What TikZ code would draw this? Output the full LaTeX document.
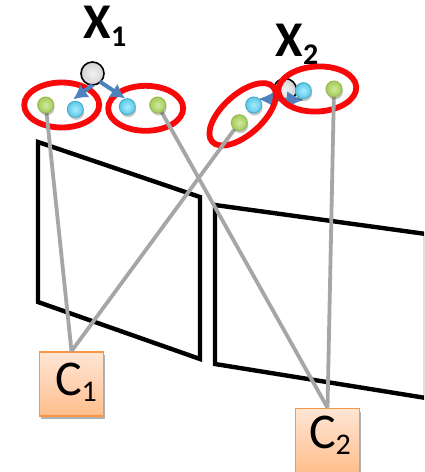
\documentclass[tikz,border=0pt]{standalone}
\usepackage{fontspec}
\setmainfont{Carlito}
\usetikzlibrary{arrows.meta,shapes.geometric,shadows}
\definecolor{ringred}{HTML}{F80808}
\definecolor{raygray}{HTML}{A6A6A6}
\definecolor{flowblue}{HTML}{4F81BD}
\definecolor{camedge}{HTML}{F79646}
\definecolor{camtop}{HTML}{FFE6D5}
\definecolor{cambot}{HTML}{FFBE8C}
\definecolor{greenin}{HTML}{D2E8A0}
\definecolor{greenout}{HTML}{A3CC55}
\definecolor{greenrim}{HTML}{98B954}
\definecolor{bluein}{HTML}{A5ECFC}
\definecolor{blueout}{HTML}{5CC8EA}
\definecolor{bluerim}{HTML}{4BACC6}
\tikzset{
  panel/.style={draw=black,line width=4.4pt,line join=miter},
  ray/.style={draw=raygray,line width=3.8pt},
  ring/.style={draw=ringred,line width=5.8pt,ellipse,minimum width=75pt,minimum height=45pt,inner sep=0pt},
  flow/.style={draw=flowblue,line width=4pt,-{Latex[length=14pt,width=16pt]}},
  dflow/.style={draw=flowblue,line width=4pt,{Latex[length=17pt,width=17pt]}-{Latex[length=17pt,width=17pt]}},
  softshadow/.style={drop shadow={shadow xshift=1pt,shadow yshift=-2.5pt,opacity=0.22,fill=black}},
  greenpt/.style={circle,draw=greenrim,line width=1pt,minimum size=16pt,inner sep=0pt,inner color=greenin,outer color=greenout,softshadow},
  bluept/.style={circle,draw=bluerim,line width=1pt,minimum size=16pt,inner sep=0pt,inner color=bluein,outer color=blueout,softshadow},
  graypt/.style={circle,draw=black,line width=1.6pt,minimum size=23pt,inner sep=0pt,inner color=gray!10,outer color=gray!35},
  cambox/.style={rectangle,draw=camedge,line width=1.6pt,minimum size=64pt,inner sep=0pt,top color=camtop,bottom color=cambot,drop shadow={shadow xshift=1pt,shadow yshift=-3pt,opacity=0.3,fill=black}},
  camlabel/.style={inner sep=0pt,font=\fontsize{50}{50}\selectfont},
  pointlabel/.style={inner sep=0pt,font=\fontsize{50}{50}\selectfont\bfseries}
}
\newcommand{\subdown}[2]{\raisebox{-#1}{\fontsize{30}{30}\selectfont #2}}
\begin{document}
\begin{tikzpicture}[x=1pt,y=-1pt]
        \useasboundingbox (0,0) rectangle (424,472);
        \clip (0,0) rectangle (424,472);
        \fill[white] (0,0) rectangle (424,472);
        \draw[panel] (38,142) -- (200,197) -- (200,359) -- (38,302) -- cycle;
        \draw[panel] (215,205) -- (426,234) -- (426,398) -- (215,364) -- cycle;
        \node[pointlabel] (labelone) at (105,26) {X\subdown{8pt}{1}};
        \node[pointlabel] (labeltwo) at (297,44) {X\subdown{8pt}{2}};
        \node[graypt] (xone) at (92.5,73.5) {};
        \node[graypt] (xtwo) at (285,90) {};
        \coordinate (tipleft) at (258,99);
        \coordinate (tipright) at (304,100);
        \draw[dflow] (tipleft) -- (tipright);
        \node[ring] (ringa) at (61.7,105) {};
        \node[ring] (ringb) at (145.7,108.3) {};
        \node[ring,minimum width=82pt,minimum height=40pt,rotate=42] (ringc) at (242.7,114.3) {};
        \node[ring,minimum width=78pt,rotate=3] (ringd) at (317.3,89) {};
        \node[cambox] (camone) at (71.5,384) {};
        \node[cambox] (camtwo) at (327.5,440.5) {};
        \node[camlabel] (camonetext) at (76,382) {C\subdown{6pt}{1}};
        \node[camlabel] (camtwotext) at (330,435) {C\subdown{6pt}{2}};
        \draw[ray] (45.7,105) coordinate (ga0) -- (camone.north);
        \draw[ray] (239.3,122.7) coordinate (gc0) -- (camone.north);
        \draw[ray] (157.7,105) coordinate (gb0) -- (camtwo.north);
        \draw[ray] (334,89) coordinate (gd0) -- (camtwo.north);
        \node[greenpt] (ga) at (ga0) {};
        \node[bluept] (ba) at (75.3,109.3) {};
        \node[bluept] (bb) at (127.3,106.7) {};
        \node[greenpt] (gb) at (gb0) {};
        \node[bluept] (bc) at (253.7,105) {};
        \node[greenpt] (gc) at (gc0) {};
        \node[bluept] (bd) at (303.3,90.7) {};
        \node[greenpt] (gd) at (gd0) {};
        \coordinate (startleft) at (92.7,85);
        \coordinate (endleft) at (73.3,99.3);
        \coordinate (startright) at (100,81.7);
        \coordinate (endright) at (125,98.3);
        \draw[flow] (startleft) -- (endleft);
        \draw[flow] (startright) -- (endright);
      \end{tikzpicture}
\end{document}
